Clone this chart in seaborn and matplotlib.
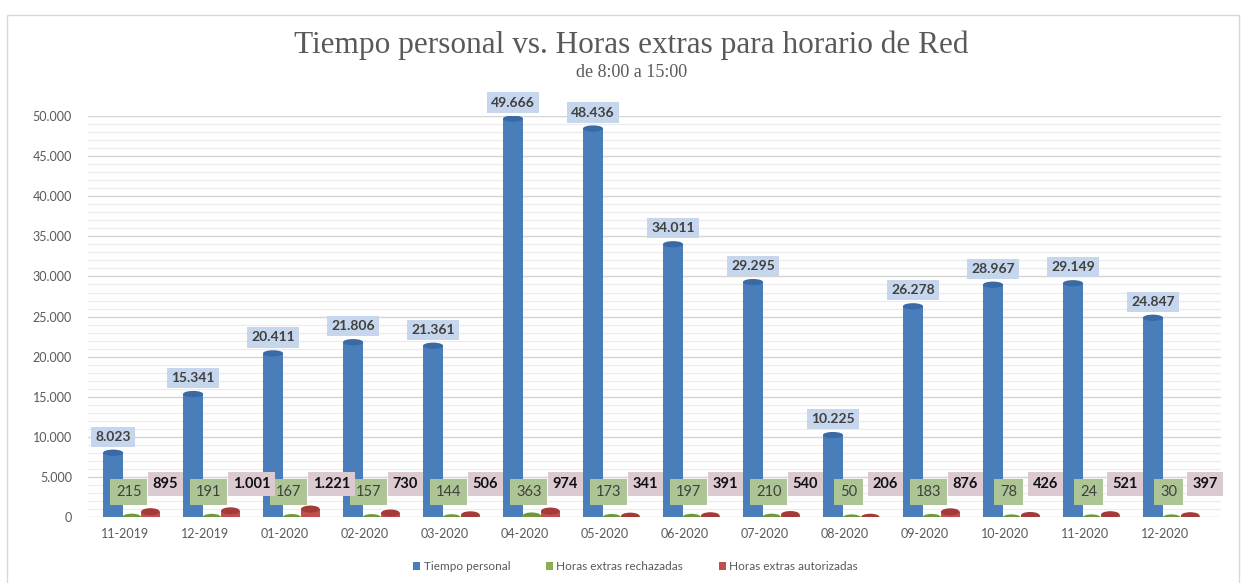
import matplotlib
matplotlib.use("Agg")
import matplotlib.pyplot as plt
import seaborn as sns
import pandas as pd
import numpy as np
from matplotlib.patches import Ellipse, Rectangle
from matplotlib.ticker import MultipleLocator, FuncFormatter

meses = ["11-2019", "12-2019", "01-2020", "02-2020", "03-2020", "04-2020", "05-2020",
         "06-2020", "07-2020", "08-2020", "09-2020", "10-2020", "11-2020", "12-2020"]
tiempo_personal = [8023, 15341, 20411, 21806, 21361, 49666, 48436,
                   34011, 29295, 10225, 26278, 28967, 29149, 24847]
horas_rechazadas = [215, 191, 167, 157, 144, 363, 173, 197, 210, 50, 183, 78, 24, 30]
horas_autorizadas = [895, 1001, 1221, 730, 506, 974, 341, 391, 540, 206, 876, 426, 521, 397]
series = ["Tiempo personal", "Horas extras rechazadas", "Horas extras autorizadas"]
colores = ["#4a7ebb", "#8cb050", "#c0504d"]

def fmt(v):
    return f"{v:,}".replace(",", ".")

df = pd.DataFrame({
    "mes": meses * 3,
    "serie": [series[0]] * 14 + [series[1]] * 14 + [series[2]] * 14,
    "valor": tiempo_personal + horas_rechazadas + horas_autorizadas,
})

sns.set_theme(style="white")
plt.rcParams["font.family"] = ["Lato", "DejaVu Sans"]

fig = plt.figure(figsize=(12.46, 5.83), dpi=100)
fig.patch.set_facecolor("white")
fig.add_artist(Rectangle((0.006, -0.01), 0.988, 0.985, transform=fig.transFigure,
                         fill=False, edgecolor="#d9d9d9", lw=1))
ax = fig.add_axes([0.0706, 0.113, 0.909, 0.688])

sns.barplot(data=df, x="mes", y="valor", hue="serie", palette=colores,
            width=0.7, dodge=True, ax=ax, legend=False, saturation=1,
            edgecolor="none")

ax.set_ylim(0, 50000)
ax.set_xlim(-0.46, 13.7)
ax.yaxis.set_major_locator(MultipleLocator(5000))
ax.yaxis.set_minor_locator(MultipleLocator(1000))
ax.yaxis.set_major_formatter(FuncFormatter(lambda v, p: fmt(int(v))))
ax.grid(axis="y", which="major", color="#d4d4d4", lw=1.0, zorder=0)
ax.grid(axis="y", which="minor", color="#ececec", lw=0.9, zorder=0)
ax.set_axisbelow(True)
for s in ax.spines.values():
    s.set_visible(False)
ax.set_xlabel("")
ax.set_ylabel("")
ax.tick_params(axis="y", labelsize=9, colors="#595959", length=0, pad=11.5)
ax.tick_params(axis="x", labelsize=9, colors="#595959", length=0, pad=8)

# cylinder look: bars with elliptic caps, shifted slightly right as in the 3D view
shift = 0.0875
px_per_unit_y = 401 / 50000
for i, cont in enumerate(ax.containers):
    for bar in cont.patches:
        w = bar.get_width()
        neww = w * 1.08 if i == 0 else w * 1.0
        newx = bar.get_x() + (w - neww) / 2 + shift
        bar.set_x(newx)
        bar.set_width(neww)
        cx = newx + neww / 2
        h = bar.get_height()
        cap_h = 7 / px_per_unit_y
        if i == 0:
            e = Ellipse((cx, h), neww, cap_h * 0.9, facecolor="#3a6aa6", edgecolor="none", zorder=3)
            ax.add_patch(e)
            e2 = Ellipse((cx, 0), neww, cap_h * 0.9, facecolor=colores[0], edgecolor="none", zorder=2)
            ax.add_patch(e2)
        else:
            shade = "#6f9a3a" if i == 1 else "#a33b38"
            top = max(h, 120)
            bar.set_height(top)
            bar.set_y(-cap_h * 0.25)
            e2 = Ellipse((cx, -cap_h * 0.25), neww, cap_h, facecolor=colores[i], edgecolor="none", zorder=2)
            ax.add_patch(e2)
            e = Ellipse((cx, top - cap_h * 0.25), neww, cap_h, facecolor=shade, edgecolor="none", zorder=3)
            ax.add_patch(e)
        bar.set_zorder(2.5)

# data labels
for bar, v in zip(ax.containers[0].patches, tiempo_personal):
    cx = bar.get_x() + bar.get_width() / 2
    ax.text(cx, v + 2000, fmt(v), ha="center", va="center", fontsize=10,
            fontweight="bold", color="#404040", zorder=5,
            bbox=dict(boxstyle="square,pad=0.3", fc="#c6d6ec", ec="none"))
for k, v in enumerate(horas_rechazadas):
    ax.text(k + 0.05, 3100, fmt(v), ha="center", va="center", fontsize=10.5,
            color="#404040", zorder=5,
            bbox=dict(boxstyle="square,pad=0.4", fc="#adc494", ec="none"))
for k, v in enumerate(horas_autorizadas):
    ax.text(k + 0.35, 4100, fmt(v), ha="left", va="center", fontsize=10.5,
            fontweight="bold", color="#111111", zorder=5,
            bbox=dict(boxstyle="square,pad=0.35", fc="#dccad3", ec="none"))

fig.text(0.507, 0.922, "Tiempo personal vs. Horas extras para horario de Red",
         ha="center", va="center", fontsize=22.5, color="#595959", family=["Liberation Serif"])
fig.text(0.507, 0.876, "de 8:00 a 15:00", ha="center", va="center", fontsize=13,
         color="#595959", family=["Liberation Serif"])

handles = [Rectangle((0, 0), 1, 1, fc=c, ec="none") for c in colores]
fig.legend(handles, series, loc="center", bbox_to_anchor=(0.51, 0.028), ncol=3,
           frameon=False, fontsize=8.5, handlelength=0.6, handleheight=0.6,
           handletextpad=0.3, columnspacing=3.0, labelcolor="#595959")

fig.savefig("out.png", dpi=100, facecolor="white")
